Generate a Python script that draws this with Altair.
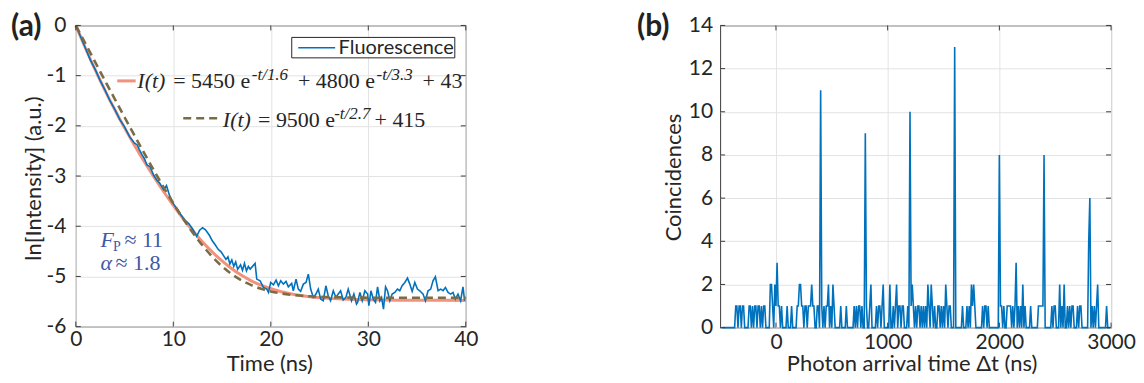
import altair as alt
import pandas as pd

# ------------------------------------------------------------------ data (a)
BLUE_T = [0, 0.5, 1, 1.5, 2, 2.5, 3, 3.5, 4, 4.5, 5, 5.5, 6, 6.3, 6.5, 6.8, 7.0, 7.3, 7.6,
          8.0, 8.3, 8.6, 9.0, 9.3, 9.6, 10.0, 10.4, 10.8, 11.2, 11.6, 12.0, 12.4, 12.7,
          13.0, 13.3, 13.7, 14.0, 14.3, 14.6, 14.9, 15.2, 15.4, 15.6, 15.8, 16.0, 16.2,
          16.4, 16.6, 16.9, 17.1, 17.3, 17.5, 17.7,
          17.88, 18.39, 18.56, 18.90, 19.24, 19.59, 19.76, 19.99, 20.27, 20.54, 20.78,
          21.02, 21.29, 21.56, 21.80, 22.14, 22.31, 22.59, 22.82, 23.06, 23.34, 23.61,
          23.85, 24.09, 24.36, 24.63, 24.87, 25.11, 25.38, 25.65, 25.89, 26.13, 26.41,
          26.68, 26.92, 27.16, 27.43, 27.70, 27.94, 28.28, 28.52, 28.79,
          28.90, 29.14, 29.38, 29.65, 29.93, 30.06, 30.27, 30.51, 30.74, 30.95, 31.19,
          31.36, 31.56, 31.77, 31.97, 32.21, 32.45, 32.72, 32.99, 33.23, 33.47, 33.75,
          34.02, 34.26, 34.50, 34.77, 35.04, 35.28, 35.62, 35.86, 36.13, 36.40, 36.64,
          36.88, 37.16, 37.43, 37.67, 37.91, 38.18, 38.45, 38.69, 38.93, 39.20, 39.47,
          39.71, 39.88]
BLUE_Y = [0, -0.23, -0.46, -0.69, -0.88, -1.10, -1.29, -1.50, -1.67, -1.87, -2.02, -2.21,
          -2.34, -2.38, -2.47, -2.58, -2.64, -2.78, -2.81, -2.99, -3.08, -3.14, -3.27,
          -3.19, -3.38, -3.55, -3.66, -3.78, -3.88, -3.95, -4.06, -4.20, -4.08, -4.03,
          -4.07, -4.18, -4.29, -4.37, -4.46, -4.51, -4.60, -4.66, -4.61, -4.75, -4.67,
          -4.80, -4.71, -4.86, -4.77, -4.88, -4.74, -4.89, -4.80,
          -4.854, -4.741, -5.053, -5.086, -5.219, -5.252, -5.318, -5.119, -5.166, -5.073,
          -5.186, -5.086, -5.153, -5.099, -5.206, -5.139, -5.285, -5.053, -5.252, -5.298,
          -5.153, -5.119, -4.954, -5.252, -5.418, -5.351, -5.252, -5.451, -5.484, -5.186,
          -5.385, -5.484, -5.285, -5.418, -5.351, -5.285, -5.471, -5.418, -5.252, -5.484,
          -5.351, -5.550,
          -5.517, -5.318, -5.484, -5.285, -5.351, -5.584, -5.285, -5.451, -5.517, -5.206,
          -5.484, -5.418, -5.650, -5.206, -5.285, -5.484, -5.351, -5.318, -5.252, -5.285,
          -5.186, -5.119, -5.033, -5.153, -5.298, -5.119, -5.252, -5.285, -5.351, -5.484,
          -5.285, -5.252, -5.086, -5.007, -5.285, -5.252, -5.285, -5.219, -5.318, -5.351,
          -5.318, -5.451, -5.351, -5.484, -5.206, -5.484]

BIEXP_T = [0, 1, 2, 3, 4, 5, 6, 7, 8, 9, 10, 11, 12, 13, 14, 15, 16, 17, 18, 19, 20,
           22, 24, 26, 28, 30, 33, 36, 40]
BIEXP_Y = [0, -0.459, -0.891, -1.297, -1.680, -2.040, -2.382, -2.707, -3.015, -3.308,
           -3.585, -3.846, -4.089, -4.312, -4.513, -4.692, -4.847, -4.978, -5.087, -5.175,
           -5.246, -5.345, -5.404, -5.437, -5.455, -5.465, -5.473, -5.476, -5.477]

MONO_T = [0, 1, 2, 3, 4, 5, 6, 7, 8, 9, 10, 11, 12, 13, 14, 15, 16, 17, 18, 19, 20,
          22, 24, 26, 28, 30, 35, 40]
MONO_Y = [0, -0.368, -0.736, -1.102, -1.467, -1.829, -2.187, -2.540, -2.885, -3.221,
          -3.543, -3.848, -4.129, -4.384, -4.608, -4.798, -4.954, -5.078, -5.173, -5.245,
          -5.298, -5.363, -5.396, -5.411, -5.419, -5.423, -5.426, -5.426]

A_XTICKS = [0, 10, 20, 30, 40]
A_YTICKS = [-6, -5, -4, -3, -2, -1, 0]

# ------------------------------------------------------------------ data (b)
B_FIRST_BIN = -480
B_BIN_WIDTH = 10
COUNTS = [
    0, 0, 0, 0, 0, 0, 0, 0, 0, 0,      # -480 .. -390
    0, 0, 1, 1, 0, 1, 1, 0, 1, 1,      # -380 .. -290
    0, 0, 0, 0, 1, 1, 0, 1, 0, 1,      # -280 .. -190
    1, 0, 1, 1, 0, 1, 0, 1, 1, 0,      # -180 .. -90
    0, 0, 0, 2, 2, 1, 0, 2, 1, 3,      # -80 .. 10
    1, 1, 0, 1, 0, 0, 0, 0, 1, 0,      # 20 .. 110
    0, 0, 1, 0, 0, 0, 0, 1, 1, 2,      # 120 .. 210
    2, 1, 1, 0, 1, 1, 0, 1, 1, 1,      # 220 .. 310
    2, 1, 1, 0, 0, 1, 1, 0, 11, 1,     # 320 .. 410
    0, 1, 0, 1, 1, 2, 0, 1, 0, 2,      # 420 .. 510
    1, 0, 0, 0, 0, 0, 1, 0, 0, 0,      # 520 .. 610
    0, 1, 0, 0, 0, 0, 0, 0, 1, 0,      # 620 .. 710
    1, 0, 1, 1, 0, 1, 0, 0, 9, 1,      # 720 .. 810
    0, 0, 1, 2, 0, 0, 0, 0, 1, 0,      # 820 .. 910
    1, 1, 0, 1, 2, 0, 0, 0, 0, 0,      # 920 .. 1010
    2, 0, 0, 1, 0, 1, 2, 0, 1, 1,      # 1020 .. 1110
    0, 1, 1, 0, 0, 0, 1, 0, 10, 1,     # 1120 .. 1210
    2, 1, 0, 1, 0, 1, 1, 0, 1, 0,      # 1220 .. 1310
    1, 0, 1, 0, 2, 1, 0, 2, 1, 0,      # 1320 .. 1410
    1, 0, 0, 1, 1, 0, 1, 0, 1, 0,      # 1420 .. 1510
    2, 1, 0, 1, 1, 0, 0, 0, 13, 0,     # 1520 .. 1610
    0, 0, 0, 0, 0, 1, 0, 0, 0, 1,      # 1620 .. 1710
    0, 1, 0, 2, 1, 2, 1, 0, 0, 0,      # 1720 .. 1810
    0, 0, 0, 1, 0, 1, 1, 0, 1, 0,      # 1820 .. 1910
    0, 0, 0, 0, 0, 0, 0, 0, 8, 1,      # 1920 .. 2010
    1, 0, 1, 0, 0, 1, 1, 1, 1, 0,      # 2020 .. 2110
    1, 0, 1, 3, 0, 1, 0, 1, 0, 2,      # 2120 .. 2210
    0, 1, 0, 0, 0, 0, 1, 0, 0, 0,      # 2220 .. 2310
    0, 0, 0, 1, 1, 1, 1, 1, 8, 0,      # 2320 .. 2410
    0, 0, 0, 0, 0, 1, 0, 1, 1, 0,      # 2420 .. 2510
    0, 0, 2, 0, 1, 0, 2, 0, 0, 1,      # 2520 .. 2610
    0, 1, 0, 1, 1, 0, 0, 0, 1, 0,      # 2620 .. 2710
    1, 1, 0, 0, 0, 0, 0, 0, 4, 6,      # 2720 .. 2810
    0, 1, 0, 1, 0, 1, 2, 0, 0, 0,      # 2820 .. 2910
    0, 0, 0, 0, 1, 0, 0, 0,            # 2920 .. 2990
]
B_XTICKS = [0, 1000, 2000, 3000]
B_YTICKS = [0, 2, 4, 6, 8, 10, 12, 14]

# ------------------------------------------------------------------ texts
PANEL_A = "(a)"
PANEL_B = "(b)"
A_XTITLE = "Time (ns)"
A_YTITLE = "ln[Intensity] (a.u.)"
B_XTITLE = "Photon arrival time \u0394t (ns)"
B_YTITLE = "Coincidences"
LEGEND_LABEL = "Fluorescence"
EQ1 = ["I(t)", "= 5450 e", "-t/1.6", "+ 4800 e", "-t/3.3", "+ 43"]
EQ2 = ["I(t)", "= 9500 e", "-t/2.7", "+ 415"]
FP = ["F", "P", "\u2248 11"]
ALPHA = ["\u03b1", "\u2248 1.8"]

# ------------------------------------------------------------------ style
SANS = "Lato"
SERIF = "Liberation Serif"
INK = "#262626"
FRAME = "#3c3c3c"
GRID = "#e3e3e3"
BLUE = "#0072BD"
SALMON = "#f3917c"
OLIVE = "#7a6d45"
ANNOT = "#3d58a8"

WA, HA = 391, 302
WB, HB = 392, 303

ONE = pd.DataFrame({"k": [0]})


def txt(s, x, y, size, font=SERIF, style="normal", weight="normal", color=INK, align="left"):
    return alt.Chart(ONE).mark_text(
        text=s, align=align, baseline="alphabetic", font=font, fontSize=size,
        fontStyle=style, fontWeight=weight, color=color
    ).encode(x=alt.value(x), y=alt.value(y))


def axis(values, title, label_pad, tx, ty, vertical):
    kw = dict(values=values, title=title, grid=True, gridColor=GRID, gridWidth=1,
              domain=False, ticks=False, tickSize=0, labelPadding=label_pad,
              labelFont=SANS, labelFontSize=21, labelColor=INK, labelFlush=False,
              labelOverlap=False, labelExpr="'' + datum.value",
              titleFont=SANS, titleFontSize=22, titleFontWeight="normal",
              titleColor=INK, titleX=tx, titleY=ty, titleAlign="center")
    if vertical:
        kw.update(titleAngle=270, titleBaseline="middle")
    else:
        kw.update(titleAngle=0, titleBaseline="alphabetic")
    return alt.Axis(**kw)


def inner_ticks(xvals, yvals, xs, ys, axx, axy, w, h, n=5):
    dx = pd.DataFrame({"t": xvals})
    dy = pd.DataFrame({"y": yvals})
    base_x = alt.X("t:Q", scale=xs, axis=axx)
    base_y = alt.Y("y:Q", scale=ys, axis=axy)
    st = dict(color=FRAME, strokeWidth=1)
    return [
        alt.Chart(dy).mark_rule(**st).encode(y=base_y, x=alt.value(0), x2=alt.value(n)),
        alt.Chart(dy).mark_rule(**st).encode(y=base_y, x=alt.value(w - n), x2=alt.value(w)),
        alt.Chart(dx).mark_rule(**st).encode(x=base_x, y=alt.value(h - n), y2=alt.value(h)),
        alt.Chart(dx).mark_rule(**st).encode(x=base_x, y=alt.value(0), y2=alt.value(n)),
    ]


# ------------------------------------------------------------------ panel (a)
xs_a = alt.Scale(domain=[0, 40], nice=False, zero=False)
ys_a = alt.Scale(domain=[-6, 0], nice=False, zero=False)
ax_ax = axis(A_XTICKS, A_XTITLE, 2, 194, 44, False)
ax_ay = axis(A_YTICKS, A_YTITLE, 10, -42, 153, True)

df_blue = pd.DataFrame({"t": BLUE_T, "y": BLUE_Y})
df_bi = pd.DataFrame({"t": BIEXP_T, "y": BIEXP_Y})
df_mono = pd.DataFrame({"t": MONO_T, "y": MONO_Y})

XA = alt.X("t:Q", scale=xs_a, axis=ax_ax)
YA = alt.Y("y:Q", scale=ys_a, axis=ax_ay)

biexp = alt.Chart(df_bi).mark_line(color=SALMON, strokeWidth=3, interpolate="monotone").encode(
    x=XA, y=YA)
blue = alt.Chart(df_blue).mark_line(color=BLUE, strokeWidth=1.6).encode(x=XA, y=YA)
mono = alt.Chart(df_mono).mark_line(color=OLIVE, strokeWidth=2.6, strokeDash=[8, 5],
                                    interpolate="monotone").encode(x=XA, y=YA)

legend_box = alt.Chart(ONE).mark_rect(fill="white", stroke=INK, strokeWidth=1).encode(
    x=alt.value(216.5), x2=alt.value(380), y=alt.value(12), y2=alt.value(32.5))
legend_line = alt.Chart(ONE).mark_rule(color=BLUE, strokeWidth=1.6).encode(
    x=alt.value(223), x2=alt.value(260), y=alt.value(22.3))
legend_text = txt(LEGEND_LABEL, 263.5, 28.5, 20, font=SANS)

eq1_line = alt.Chart(ONE).mark_rule(color=SALMON, strokeWidth=3).encode(
    x=alt.value(41.5), x2=alt.value(60), y=alt.value(55.6))
eq2_line = alt.Chart(ONE).mark_rule(color=OLIVE, strokeWidth=2.6, strokeDash=[8, 5]).encode(
    x=alt.value(107.7), x2=alt.value(146), y=alt.value(93))

M, S = 22, 17
eq1 = [
    txt(EQ1[0], 61.7, 63, M, style="italic"),
    txt(EQ1[1], 97.7, 63, M),
    txt(EQ1[2], 176.5, 55, S, style="italic"),
    txt(EQ1[3], 222.7, 63, M),
    txt(EQ1[4], 301.5, 55, S, style="italic"),
    txt(EQ1[5], 347.7, 63, M),
]
eq2 = [
    txt(EQ2[0], 147.4, 101.6, M, style="italic"),
    txt(EQ2[1], 182.7, 101.6, M),
    txt(EQ2[2], 259, 94, S, style="italic"),
    txt(EQ2[3], 299.5, 101.6, M),
]
ann = [
    txt(FP[0], 24.7, 222.3, M, style="italic", color=ANNOT),
    txt(FP[1], 37.2, 226.5, 14, color=ANNOT),
    txt(FP[2], 48.7, 222.3, M, color=ANNOT),
    txt(ALPHA[0], 24.7, 245.6, M, style="italic", color=ANNOT),
    txt(ALPHA[1], 39.7, 245.6, M, color=ANNOT),
]
label_a = txt(PANEL_A, -65, 10.4, 30, font=SANS, weight="bold", color="#222222")

panel_a = alt.layer(
    biexp, blue, mono,
    *inner_ticks(A_XTICKS, A_YTICKS, xs_a, ys_a, ax_ax, ax_ay, WA, HA),
    legend_box, legend_line, legend_text,
    eq1_line, eq2_line, *eq1, *eq2, *ann, label_a,
).properties(width=WA, height=HA)

# ------------------------------------------------------------------ panel (b)
xs_b = alt.Scale(domain=[-500, 3000], nice=False, zero=False)
ys_b = alt.Scale(domain=[0, 14], nice=False, zero=False)
ax_bx = axis(B_XTICKS, B_XTITLE, 4, 192, 43, False)
ax_by = axis(B_YTICKS, B_YTITLE, 7.5, -47, 152, True)

df_b = pd.DataFrame({
    "t": [B_FIRST_BIN + B_BIN_WIDTH * i for i in range(len(COUNTS))],
    "y": COUNTS,
})
hist = alt.Chart(df_b).mark_line(color=BLUE, strokeWidth=1.6).encode(
    x=alt.X("t:Q", scale=xs_b, axis=ax_bx), y=alt.Y("y:Q", scale=ys_b, axis=ax_by))
label_b = txt(PANEL_B, -83.3, 10.4, 30, font=SANS, weight="bold", color="#222222")

panel_b = alt.layer(
    hist, *inner_ticks(B_XTICKS, B_YTICKS, xs_b, ys_b, ax_bx, ax_by, WB, HB), label_b
).properties(width=WB, height=HB)

chart = alt.hconcat(panel_a, panel_b, spacing=158).properties(
    padding={"left": 2, "top": 2, "right": 0, "bottom": 0}
).configure_view(stroke=FRAME, strokeWidth=1)

chart.save("out.html", embed_options={"renderer": "svg", "actions": False})
